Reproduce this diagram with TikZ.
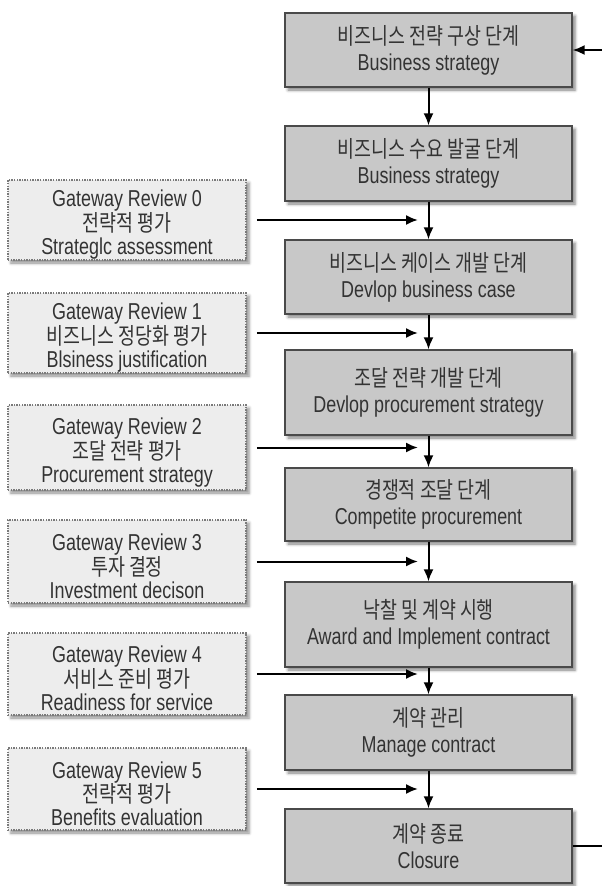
\documentclass[tikz,border=0pt]{standalone}
\usepackage{fontspec}
\setmainfont{Liberation Sans}
\newfontfamily\kor[FakeStretch=0.8]{Noto Sans CJK KR}
\newfontfamily\lat[FakeStretch=0.78]{Liberation Sans}
\usetikzlibrary{arrows.meta,shadows.blur}
\definecolor{stagefill}{HTML}{C8C8C8}
\definecolor{stageline}{HTML}{4A4A4A}
\definecolor{gatefill}{HTML}{EDEDED}
\definecolor{gateline}{HTML}{7A7A7A}
\definecolor{txt}{HTML}{333333}
\tikzset{
  stage/.style={draw=stageline, line width=1.2pt, fill=stagefill, minimum width=287pt,
    inner sep=0pt, align=center, text=txt, font=\lat\fontsize{23}{26}\selectfont,
    blur shadow={shadow xshift=3pt, shadow yshift=-3pt, shadow blur radius=3pt, shadow opacity=50}},
  gate/.style={draw=gateline, line width=1.8pt, dash pattern=on 1.4pt off 1.2pt, fill=gatefill,
    minimum width=238pt, inner sep=0pt, align=center, text=txt, font=\lat\fontsize{23}{23}\selectfont,
    blur shadow={shadow xshift=3pt, shadow yshift=-3pt, shadow blur radius=3pt, shadow opacity=45}},
  flow/.style={line width=2pt, -{Latex[length=12pt,width=10pt]}}
}
\begin{document}
\begin{tikzpicture}[x=1pt, y=-1pt]
\useasboundingbox (0,0) rectangle (602,886);

% Stages
\foreach \n/\y/\h/\ko/\en in {
  1/50/74/비즈니스 전략 구상 단계/Business strategy,
  2/163.5/75/비즈니스 수요 발굴 단계/Business strategy,
  3/277/74/비즈니스 케이스 개발 단계/Devlop business case,
  4/392.5/85/조달 전략 개발 단계/Devlop procurement strategy,
  5/504.5/73/경쟁적 조달 단계/Competite procurement,
  6/624.5/85/낙찰 및 계약 시행/Award and Implement contract,
  7/732.5/75/계약 관리/Manage contract,
  8/846/74/계약 종료/Closure} {
\node[stage, minimum height=\h] (s\n) at (428.5,\y) {{\kor\fontsize{23}{26}\selectfont \ko}\\\en};
}
\foreach \a/\b in {1/2,2/3,3/4,4/5,5/6,6/7,7/8} {
\draw[flow] (s\a) -- (s\b);
}
\draw[flow] (s8.east) -- ++(32,0) |- (s1.east);

% Gateway reviews
\foreach \n/\y/\h/\ko/\en in {
  0/220/80/전략적 평가/Strateglc assessment,
  1/333/80/비즈니스 정당화 평가/Blsiness justification,
  2/447.5/85/조달 전략 평가/Procurement strategy,
  3/561.5/83/투자 결정/Investment decison,
  4/674/82/서비스 준비 평가/Readiness for service,
  5/789/82/전략적 평가/Benefits evaluation} {
\node[gate, minimum height=\h] (g\n) at (127,\y) {\rule{0pt}{26pt}Gateway Review \n\\{\kor\fontsize{23}{23}\selectfont \ko}\\\en};
\coordinate (t\n) at (418,\y);
\draw[flow] ([xshift=10pt]g\n.east) -- (t\n);
}
\end{tikzpicture}
\end{document}
